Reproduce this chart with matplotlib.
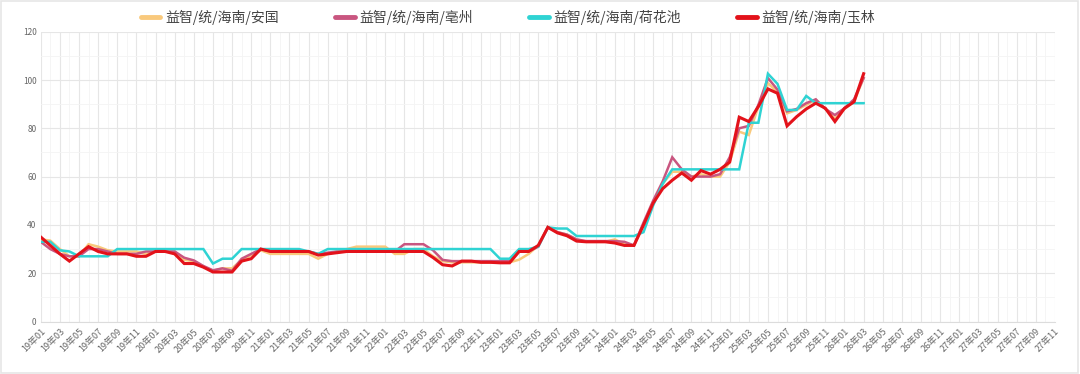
import matplotlib
matplotlib.use("Agg")
import matplotlib.pyplot as plt
from matplotlib.patches import Rectangle
from matplotlib.ticker import MultipleLocator
import numpy as np

plt.rcParams['font.family'] = ['Noto Sans CJK SC', 'DejaVu Sans']

# month categories 19年01 .. 27年11
months = [f"{y % 100:02d}年{m:02d}" for y in range(2019, 2028) for m in range(1, 13)]
months = months[:months.index("27年11") + 1]

series_names = ["益智/统/海南/安国", "益智/统/海南/亳州", "益智/统/海南/荷花池", "益智/统/海南/玉林"]
series_colors = ["#f9c97c", "#c95680", "#2fd3d3", "#e3121a"]

anguo = [34, 33.5, 30, 27, 27, 32, 31, 29.5, 29, 29, 29, 28, 29, 29, 29, 25.5, 25, 22.7, 21, 22,
         22, 25.5, 27.5, 29.5, 28, 28, 28, 28, 28, 26, 28, 29, 30, 31, 31, 31, 31, 28, 28, 30,
         30, 27, 25, 24.5, 24.5, 24.5, 24.5, 24.5, 24.5, 24.5, 25.6, 28, 31.5, 39, 37, 36, 34, 33, 33, 33,
         34, 32, 31.5, 40, 49, 57, 62, 62, 60, 61, 60, 60, 66, 78.6, 77.2, 89, 98.7, 95, 86.2, 87.6,
         89.7, 91.8, 88, 84, 88, 91, 100.8]

bozhou = [33, 30, 28, 27, 27, 30, 30, 29, 28, 28, 28, 29, 29, 29, 29, 26.4, 25.3, 23, 21.2, 22,
          21, 26, 28, 30, 29, 29, 29, 29, 29, 28, 28.5, 29, 29, 29, 29, 29, 29, 29, 32, 32,
          32, 29.5, 25.5, 25, 25, 25, 25, 25, 25, 25, 29, 29, 31, 39, 37, 36, 34, 33.3, 33.3, 33.3,
          33.3, 33, 31.5, 41, 50, 58, 68, 63, 60, 60, 60, 61, 68, 80, 81, 89.7, 100.8, 96, 87, 88,
          90.4, 92, 88, 85.5, 88.3, 92, 100.8]

hehuachi = [33, 33, 29.5, 29, 27, 27, 27, 27, 30, 30, 30, 30, 30, 30, 30, 30, 30, 30, 24, 26,
            26, 30, 30, 30, 30, 30, 30, 30, 29, 28, 30, 30, 30, 30, 30, 30, 30, 30, 30, 30,
            30, 30, 30, 30, 30, 30, 30, 30, 26, 26, 30, 30, 31, 39, 38.5, 38.5, 35.4, 35.4, 35.4, 35.4,
            35.4, 35.4, 35.4, 37, 48, 57, 63, 63, 63, 63, 63, 63, 63, 63, 82.3, 82.3, 102.6, 98.4, 87.6, 87.6,
            93.4, 90.4, 90.4, 90.4, 90.4, 90.4, 90.4]

yulin = [35, 31.5, 28, 25, 28, 31, 29, 28, 28, 28, 27, 27, 29, 29, 28, 24, 24, 22.5, 20.5, 20.5,
         20.5, 25, 26, 30, 29, 29, 29, 29, 29, 27.5, 28, 28.5, 29, 29, 29, 29, 29, 29, 29, 29,
         29, 26.5, 23.5, 23, 25, 25, 24.5, 24.5, 24.3, 24.3, 29, 29, 31.5, 39, 36.7, 35.5, 33.3, 33, 33, 33,
         32.5, 31.5, 31.5, 40, 49, 55, 58.5, 61.5, 58.5, 62.5, 61, 63, 66, 84.6, 82.8, 89, 96.3, 94.5, 81, 84.8,
         88, 90.4, 88.3, 82.8, 88.3, 91, 102.6]

series_values = [anguo, bozhou, hehuachi, yulin]
series_widths = [1.8, 1.8, 1.8, 2.2]

fig = plt.figure(figsize=(10.8, 3.74), dpi=100)
ax = fig.add_axes([40.7 / 1080, 1 - 321.5 / 374, (1055 - 40.7) / 1080, (321.5 - 31.7) / 374])

for name, vals, col, lw in zip(series_names, series_values, series_colors, series_widths):
    ax.plot(np.arange(len(vals)), vals, color=col, lw=lw, label=name,
            solid_joinstyle='miter')

ax.set_xlim(0, len(months) - 1)
ax.set_ylim(0, 120)
ax.set_yticks(range(0, 121, 20))
ax.yaxis.set_minor_locator(MultipleLocator(10))
ax.set_xticks(range(0, len(months), 2))
ax.set_xticklabels(months[::2], rotation=45, ha='right', rotation_mode='anchor')
ax.xaxis.set_minor_locator(MultipleLocator(1))

ax.grid(True, which='major', color='#e6e6e6', lw=0.8)
ax.grid(True, which='minor', color='#f4f4f4', lw=0.6)
ax.set_axisbelow(True)
ax.tick_params(which='both', length=0, labelsize=6, labelcolor='#666666', pad=3)
ax.tick_params(axis='x', pad=4, labelsize=6.5)
for s in ['top', 'right', 'left']:
    ax.spines[s].set_visible(False)
ax.spines['bottom'].set_color('#dcdcdc')

leg = fig.legend(loc='center left', bbox_to_anchor=(141 / 1080, 1 - 17 / 374),
                 bbox_transform=fig.transFigure, ncol=4, frameon=False,
                 fontsize=10, borderpad=0, borderaxespad=0,
                 handlelength=1.4, handletextpad=0.35, columnspacing=4.05)
for h in leg.legend_handles:
    h.set_linewidth(3.5)
    h.set_solid_capstyle('round')
for t in leg.get_texts():
    t.set_color('#444444')

fig.patches.append(Rectangle((0.001, 0.002), 0.997, 0.995, transform=fig.transFigure,
                             fill=False, edgecolor='#e6e6e6', lw=1.2))

fig.savefig("out.png", dpi=100)
